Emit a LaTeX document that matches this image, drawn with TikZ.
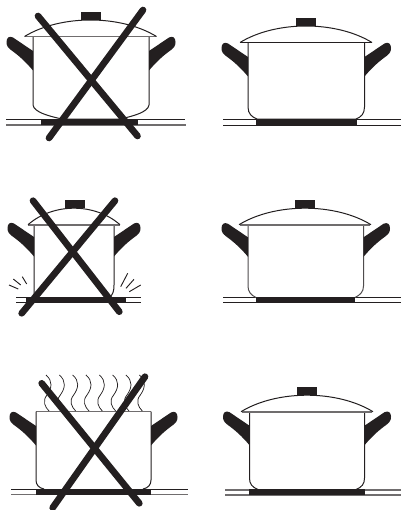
\documentclass[tikz,border=0pt]{standalone}
\usetikzlibrary{arrows.meta,calc}
\definecolor{ink}{RGB}{35,31,32}
\tikzset{
  outline/.style={draw=ink,line width=0.75pt},
  greyline/.style={draw=ink!65,line width=1.2pt},
  hotplate/.style={fill=ink},
  crossbar/.style={draw=ink,line width=5pt,line cap=round},
  spark/.style={draw=ink,line width=0.7pt},
  % pictograms
  pics/handle/.style={code={
    \fill[ink] (0,0) -- (-20,-13.5) .. controls (-24,-15.5) and (-26.5,-13) .. (-26.5,-9)
      .. controls (-26.5,-5) and (-25,-3.5) .. (-22,-1)
      .. controls (-15,4) and (-8,10) .. (0,19.5) -- cycle;
  }},
  pics/lid/.style={code={
    \draw[outline] (-66,0) .. controls (-48,-11) and (-24,-16.5) .. (0,-16.5)
      .. controls (24,-16.5) and (48,-11) .. (66,0);
  }},
  pics/knob/.style={code={
    \fill[ink] (-10,-24.5) rectangle (10,-16.5);
  }},
  pics/steam/.style={code={
    \draw[draw=ink,line width=0.55pt] (0,0) .. controls (7,6) and (6,13) .. (1,20)
      .. controls (-4,26) and (-1,32) .. (3,36);
  }},
}
\begin{document}
\begin{tikzpicture}[x=0.75pt,y=-0.75pt]
  \useasboundingbox (0,0) rectangle (401,510);
  \fill[white] (0,0) rectangle (401,510);

  % top left
  \draw[outline] (6,119) -- (185,119);
  \draw[greyline] (6,125) -- (186,125);
  \draw[outline] (33,36.5) -- (33,105) .. controls (34,112) and (48,116) .. (62,119)
    -- (120,119) .. controls (134,116) and (148,112) .. (149,105) -- (149,36.5);
  \draw[greyline] (25,36.5) -- (156,36.5);
  \pic at (90.5,36.5) {lid};
  \pic at (90.5,36.5) {knob};
  \pic at (33,51) {handle};
  \pic[xscale=-1] at (149,51) {handle};
  \fill[hotplate] (41,119) rectangle (138,125);
  \draw[crossbar] (38,16) -- (137.5,136);
  \draw[crossbar] (143,10) -- (49,138);

  % top right
  \draw[outline] (223,119) -- (401,119);
  \draw[outline] (223,125) -- (401,125);
  \draw[outline] (248,42.5) -- (248,107) .. controls (248,114) and (252,117) .. (257,119)
    -- (356,119) .. controls (361,117) and (364.5,114) .. (364.5,107) -- (364.5,42.5);
  \draw[outline] (240,42.5) -- (372,42.5);
  \pic at (306,42.5) {lid};
  \pic at (306,42.5) {knob};
  \pic at (248,57) {handle};
  \pic[xscale=-1] at (364.5,57) {handle};
  \fill[hotplate] (256,119) rectangle (357,125);

  % middle left
  \draw[outline] (16,297.5) -- (141,297.5);
  \draw[outline] (16,302.5) -- (141,302.5);
  \draw[outline] (34,224.7) -- (34,297) (114,224.7) -- (114,285) .. controls (114,291) and (113,294) .. (110,297);
  \draw[greyline] (28,224.7) -- (120,224.7);
  \pic[xscale=0.697] at (74,224.7) {lid};
  \pic at (74.5,224.7) {knob};
  \pic at (34,237) {handle};
  \pic[xscale=-1] at (114,237) {handle};
  \fill[hotplate] (26,297) rectangle (126,303);
  \foreach \a/\b/\c/\d in {9/285/18.3/289,13.3/279/20.7/285,22.3/276.7/26.7/284,
    120.7/286.7/127.7/273.3,126/288.3/134/279.3,129.3/291.7/140.7/285}
    \draw[spark] (\a,\b) -- (\c,\d);
  \draw[crossbar] (33,200.7) -- (119.3,311.7);
  \draw[crossbar] (115,200.7) -- (21.7,313.3);

  % middle right
  \draw[outline] (223,297.7) -- (401,297.7);
  \draw[outline] (223,302.7) -- (401,302.7);
  \draw[outline,draw=ink!80] (248,224.7) -- (248,286) .. controls (248,292) and (251,295) .. (256,297.5)
    -- (355,297.5) .. controls (360,295) and (363.5,292) .. (363.5,286) -- (363.5,224.7);
  \draw[greyline] (240,224.7) -- (370,224.7);
  \pic at (305,224.7) {lid};
  \pic at (305,224.7) {knob};
  \pic at (248,237.3) {handle};
  \pic[xscale=-1] at (363.5,237.3) {handle};
  \fill[hotplate] (256,297) rectangle (355,303);

  % bottom left
  \draw[outline] (11,489) -- (188,489);
  \draw[greyline] (11,494.5) -- (188,494.5);
  \draw[greyline] (36,411.5) -- (151,411.5);
  \draw[outline] (36,411.5) -- (36,480) .. controls (36,485) and (39,488) .. (44,489)
    (143,489) .. controls (148,488) and (151,485) .. (151,480) -- (151,411.5);
  \pic at (36,426) {handle};
  \pic[xscale=-1] at (151,426) {handle};
  \foreach \x in {0,...,7} \pic at (46+13.33*\x,375) {steam};
  \fill[hotplate] (36,489) rectangle (151,495);
  \draw[crossbar] (41.7,383.3) -- (139.3,503.3);
  \draw[crossbar] (145,376.7) -- (52.7,507.7);

  % bottom right
  \draw[greyline] (225,489.7) -- (401,489.7);
  \draw[greyline] (225,495) -- (401,495);
  \draw[outline] (249.5,411.7) -- (249.5,478) .. controls (249.5,484) and (252,487) .. (258,489.5)
    -- (356,489.5) .. controls (362,487) and (364.5,484) .. (364.5,478) -- (364.5,411.7);
  \draw[greyline] (242,411.7) -- (372,411.7);
  \pic at (307,411.7) {lid};
  \pic at (307,411.7) {knob};
  \pic at (249.5,425.7) {handle};
  \pic[xscale=-1] at (364.5,425.7) {handle};
  \fill[hotplate] (249,489) rectangle (365,495);
\end{tikzpicture}
\end{document}
